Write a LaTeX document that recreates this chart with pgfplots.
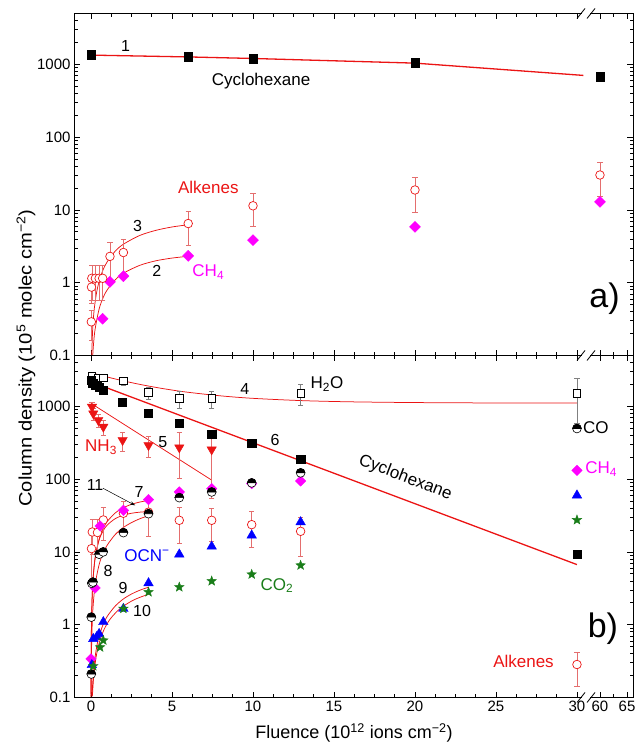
\documentclass[border=0pt]{standalone}
\usepackage{pgfplots}
\pgfplotsset{compat=1.18}
\usepackage{fontspec}
\setmainfont{Liberation Sans}
\usepackage{graphicx}
\usetikzlibrary{arrows.meta,plotmarks}
\definecolor{cred}{RGB}{235,20,20}
\definecolor{ered}{RGB}{228,110,110}
\definecolor{cmag}{RGB}{255,0,255}
\definecolor{cblue}{RGB}{0,0,255}
\definecolor{cgreen}{RGB}{25,125,25}
\newcommand{\lf}{\fontsize{17}{19}\selectfont}
\newcommand{\nf}{\fontsize{16}{18}\selectfont}
\newcommand{\bigf}{\fontsize{34}{36}\selectfont}
\pgfdeclareplotmark{fstar}{%
  \pgfpathmoveto{\pgfpointpolar{90}{\pgfplotmarksize}}%
  \pgfpathlineto{\pgfpointpolar{126}{0.42\pgfplotmarksize}}%
  \pgfpathlineto{\pgfpointpolar{162}{\pgfplotmarksize}}%
  \pgfpathlineto{\pgfpointpolar{198}{0.42\pgfplotmarksize}}%
  \pgfpathlineto{\pgfpointpolar{234}{\pgfplotmarksize}}%
  \pgfpathlineto{\pgfpointpolar{270}{0.42\pgfplotmarksize}}%
  \pgfpathlineto{\pgfpointpolar{306}{\pgfplotmarksize}}%
  \pgfpathlineto{\pgfpointpolar{342}{0.42\pgfplotmarksize}}%
  \pgfpathlineto{\pgfpointpolar{18}{\pgfplotmarksize}}%
  \pgfpathlineto{\pgfpointpolar{54}{0.42\pgfplotmarksize}}%
  \pgfpathclose
  \pgfusepathqfillstroke
}
\pgfdeclareplotmark{hcirc}{%
  \pgfpathcircle{\pgfpointorigin}{\pgfplotmarksize}%
  \pgfsetfillcolor{white}%
  \pgfusepathqfillstroke
  \pgfpathmoveto{\pgfqpoint{\pgfplotmarksize}{0pt}}%
  \pgfpatharc{0}{180}{\pgfplotmarksize}%
  \pgfpathclose
  \pgfsetfillcolor{black}%
  \pgfusepathqfillstroke
}
\begin{document}
\begin{tikzpicture}
\path[use as bounding box] (0,0) rectangle (643pt,744pt);
% ---------------- top panel ----------------
\begin{axis}[
    scale only axis, anchor=south west, width=559pt, height=342pt, at={(74pt,388.5pt)},
    ymode=log, xmin=-1.05, xmax=33.46, ymin=0.1, ymax=5000,
    axis line style={line width=0.9pt},
    tick align=inside, major tick length=6pt, minor tick length=3.5pt,
    tick style={line width=0.7pt, black},
    xtick={0,5,10,15,20,25,30,31.42,33.09},
    minor xtick={1.25,2.5,3.75,6.25,7.5,8.75,11.25,12.5,13.75,16.25,17.5,18.75,21.25,22.5,23.75,26.25,27.5,28.75,32.255},
    ytick={0.1,1,10,100,1000},
    yticklabels={0.1,1,10,100,1000},
    minor ytick={0.2,0.3,0.4,0.5,0.6,0.7,0.8,0.9,2,3,4,5,6,7,8,9,20,30,40,50,60,70,80,90,200,300,400,500,600,700,800,900,2000,3000,4000},
    tick label style={font=\fontsize{15}{16}\selectfont},
    xticklabel=\empty]
\addplot[cred, line width=1.3pt] coordinates {(0,1340)(6,1265)(10,1205)(20,1040)(30.4,705)};
\addplot[cred, line width=1.3pt] coordinates {(31.2,690)(31.42,688)};
\addplot[only marks, mark=square*, mark size=4.2pt, black] coordinates {(0,1360)(6,1270)(10,1190)(20,1050)(31.42,673)};
\addplot[cred, line width=0.75pt, smooth] coordinates {(0.045,0.1)(0.1,0.222)(0.2,0.437)(0.4,0.848)(0.7,1.42)(1,1.94)(1.5,2.72)(2,3.38)(3,4.45)(4,5.24)(5,5.83)(6,6.26)};
\addplot[cred, line width=0.75pt, smooth] coordinates {(0.105,0.098)(0.15,0.139)(0.25,0.228)(0.5,0.435)(0.75,0.626)(1,0.798)(1.5,1.10)(2,1.35)(3,1.73)(4,2.00)(5,2.18)(6,2.31)};
\addplot[only marks, mark=square*, mark size=3.9pt, mark options={rotate=45}, cmag] coordinates {(0.72,0.32)(1.17,1.03)(2.0,1.23)(6,2.34)(10,3.84)(20,5.85)(31.42,12.9)};
\addplot[only marks, mark=*, mark size=4.3pt, mark options={draw=cred, fill=white, line width=0.7pt},
  error bars/.cd, y dir=both, y explicit, error bar style={line width=0.5pt, color=ered},
  error mark options={rotate=90, mark size=2.6pt, line width=0.5pt, color=ered}] coordinates {
(0.02,0.29) +- (0,0.13)
(0.03,0.87) +- (0,0.35)
(0.05,1.15) +- (0,0.58)
(0.27,1.15) +- (0,0.58)
(0.5,1.15) +- (0,0.58)
(0.72,1.15) +- (0,0.58)
(1.17,2.3) +- (0,1.25)
(2.0,2.6) +- (0,1.35)
(6,6.5) +- (0,3.2)
(10,11.4) +- (0,5.5)
(20,18.8) +- (0,9.5)
(31.42,30.2) +- (0,15)
};
\node[font=\nf] at (axis cs:2.13,1800) {1};
\node[font=\lf] at (axis cs:10.5,586) {Cyclohexane};
\node[font=\lf, text=cred] at (axis cs:7.24,20.5) {Alkenes};
\node[font=\nf] at (axis cs:2.87,6.1) {3};
\node[font=\nf] at (axis cs:4.07,1.47) {2};
\node[font=\lf, text=cmag] at (axis cs:7.24,1.39) {CH\textsubscript{4}};
\node[font=\bigf] at (axis cs:31.7,0.6) {a)};
\end{axis}
% ---------------- bottom panel ----------------
\begin{axis}[
    scale only axis, anchor=south west, width=559pt, height=342pt, at={(74pt,46.5pt)},
    ymode=log, xmin=-1.05, xmax=33.46, ymin=0.1, ymax=5000,
    axis line style={line width=0.9pt},
    tick align=inside, major tick length=6pt, minor tick length=3.5pt,
    tick style={line width=0.7pt, black},
    xtick={0,5,10,15,20,25,30,31.42,33.09},
    minor xtick={1.25,2.5,3.75,6.25,7.5,8.75,11.25,12.5,13.75,16.25,17.5,18.75,21.25,22.5,23.75,26.25,27.5,28.75,32.255},
    ytick={0.1,1,10,100,1000},
    yticklabels={0.1,1,10,100,1000},
    minor ytick={0.2,0.3,0.4,0.5,0.6,0.7,0.8,0.9,2,3,4,5,6,7,8,9,20,30,40,50,60,70,80,90,200,300,400,500,600,700,800,900,2000,3000,4000},
    tick label style={font=\fontsize{15}{16}\selectfont},
    xticklabels={0,5,10,15,20,25,30,60,65}]
\addplot[cred, line width=0.75pt, smooth] coordinates {(0,2900)(1,2533)(2,2240)(3,2008)(4,1824)(5,1677)(6,1561)(8,1395)(10,1289)(13,1200)(16,1155)(20,1128)(25,1114)(30,1111)};
\addplot[cred, line width=0.75pt] coordinates {(0,1100)(7.45,97)};
\addplot[cred, line width=1.3pt] coordinates {(0,2170)(30,6.7)};
\addplot[cred, line width=0.75pt, smooth] coordinates {(0.003,0.104)(0.01,0.347)(0.03,1.03)(0.1,3.38)(0.25,8.07)(0.5,15.0)(0.75,21.0)(1,26.2)(1.5,34.4)(2,40.5)(2.5,45.1)(3,48.4)(3.55,51.1)};
\addplot[cred, line width=0.75pt, smooth] coordinates {(0.003,0.111)(0.01,0.368)(0.03,1.09)(0.1,3.52)(0.25,8.2)(0.5,14.6)(0.75,19.5)(1,23.4)(1.5,28.7)(2,32.0)(2.5,34.0)(3,35.2)(3.55,35.9)};
\addplot[cred, line width=0.75pt, smooth] coordinates {(0.007,0.101)(0.01,0.144)(0.03,0.43)(0.1,1.42)(0.25,3.47)(0.5,6.69)(0.75,9.67)(1,12.4)(1.5,17.4)(2,21.7)(2.5,25.3)(3,28.5)(3.55,31.5)};
\addplot[cred, line width=0.75pt, smooth] coordinates {(0.07,0.104)(0.1,0.148)(0.2,0.291)(0.4,0.566)(0.7,0.947)(1,1.30)(1.5,1.81)(2,2.26)(2.5,2.64)(3,2.97)(3.55,3.28)};
\addplot[cred, line width=0.75pt, smooth] coordinates {(0.09,0.106)(0.15,0.176)(0.3,0.344)(0.5,0.557)(0.8,0.854)(1.2,1.21)(1.8,1.67)(2.5,2.11)(3,2.37)(3.55,2.62)};
% H2O
\addplot[only marks, mark=square*, mark size=3.8pt, mark options={draw=black, fill=white, line width=0.6pt},
  error bars/.cd, y dir=both, y explicit, error bar style={line width=0.5pt, color=gray},
  error mark options={rotate=90, mark size=2.6pt, line width=0.5pt, color=gray}] coordinates {
(0.04,2600) +- (0,300)
(0.41,2420) +- (0,280)
(0.76,2470) +- (0,280)
(2,2240) +- (0,300)
(3.54,1550) +- (0,300)
(5.45,1285) +- (0,350)
(7.45,1285) +- (0,350)
(12.94,1503) +- (0,480)
(30,1500) +- (0,920)
};
% cyclohexane
\addplot[only marks, mark=square*, mark size=4.1pt, black] coordinates {(0,2290)(0.1,2065)(0.25,1950)(0.5,1840)(0.75,1660)(1.95,1150)(3.55,815)(5.45,582)(7.45,415)(9.92,309)(12.94,190)(30,9.3)};
% NH3
\addplot[only marks, mark=triangle*, mark size=5.4pt, mark options={rotate=180}, cred,
  error bars/.cd, y dir=both, y explicit, error bar style={line width=0.5pt, color=ered},
  error mark options={rotate=90, mark size=2.6pt, line width=0.5pt, color=ered}] coordinates {
(0.06,985) +- (0,150)
(0.14,798) +- (0,150)
(0.45,646) +- (0,130)
(0.76,523) +- (0,120)
(1.95,343) +- (0,100)
(3.55,292) +- (0,95)
(5.45,272) +- (0,170)
(7.45,255) +- (0,200)
};
% alkenes
\addplot[only marks, mark=*, mark size=4.3pt, mark options={draw=cred, fill=white, line width=0.7pt},
  error bars/.cd, y dir=both, y explicit, error bar style={line width=0.5pt, color=ered},
  error mark options={rotate=90, mark size=2.6pt, line width=0.5pt, color=ered}] coordinates {
(0.03,11.1) +- (0,7)
(0.08,18.8) +- (0,9.5)
(0.4,18.5) +- (0,9.5)
(0.76,27.5) +- (0,13)
(2,34) +- (0,15)
(3.55,35.2) +- (0,19)
(5.45,27.2) +- (0,14)
(7.45,27.2) +- (0,13)
(9.92,23.7) +- (0,12)
(12.94,19.2) +- (0,10.5)
(30,0.284) +- (0,0.14)
};
% CH4
\addplot[only marks, mark=square*, mark size=3.7pt, mark options={rotate=45}, cmag] coordinates {(0,0.34)(0.25,3.2)(0.56,22.7)(2,37.3)(3.55,52.4)(5.45,66.7)(7.45,74.2)(9.92,87)(12.94,94.5)(30,132)};
% CO
\addplot[only marks, mark=hcirc, mark size=4.4pt, mark options={draw=black, line width=0.6pt}] coordinates {(0.02,0.21)(0.02,1.27)(0.05,3.7)(0.12,3.85)(0.5,9.3)(0.75,10)(2,18.4)(3.55,33.5)(5.45,55.7)(7.45,66.6)(9.92,88.8)(12.94,122)(30,496)};
% OCN-
\addplot[only marks, mark=triangle*, mark size=5.5pt, cblue] coordinates {(0.05,0.28)(0.14,0.64)(0.35,0.68)(0.5,0.75)(0.76,1.09)(2,1.66)(3.55,3.73)(5.45,9.27)(7.45,11.9)(9.92,16.9)(12.94,25.7)(30,60)};
% CO2
\addplot[only marks, mark=fstar, mark size=5pt, cgreen] coordinates {(0.14,0.27)(0.56,0.49)(0.76,0.61)(2,1.66)(3.55,2.81)(5.45,3.29)(7.45,3.98)(9.92,4.92)(12.94,6.55)(30,27.5)};
% labels
\node[font=\nf] at (axis cs:9.5,1726) {4};
\node[font=\lf] at (axis cs:14.57,2018) {H\textsubscript{2}O};
\node[font=\nf] at (axis cs:11.36,343) {6};
\node[font=\nf] at (axis cs:4.44,322) {5};
\node[font=\lf, text=cred] at (axis cs:0.62,275) {NH\textsubscript{3}};
\node[font=\nf] at (axis cs:0.25,82.4) {11};
\node[font=\nf] at (axis cs:2.96,66) {7};
\draw[-{Stealth[length=5pt,width=3.5pt]}, line width=0.5pt] (axis cs:0.74,75) -- (axis cs:2.72,43.7);
\node[font=\lf, rotate=-21, inner sep=1pt] at (axis cs:19.4,104) {Cyclohexane};
\node[font=\lf, anchor=west, inner sep=0pt] at (axis cs:30.37,518) {CO};
\node[font=\lf, text=cmag, anchor=west, inner sep=0pt] at (axis cs:30.5,138) {CH\textsubscript{4}};
\node[font=\lf, text=cblue] at (axis cs:3.46,8.97) {OCN\textsuperscript{−}};
\node[font=\nf] at (axis cs:1.05,5.4) {8};
\node[font=\nf] at (axis cs:1.98,3.16) {9};
\node[font=\nf] at (axis cs:3.15,1.52) {10};
\node[font=\lf, text=cgreen] at (axis cs:11.48,3.47) {CO\textsubscript{2}};
\node[font=\lf, text=cred] at (axis cs:26.7,0.313) {Alkenes};
\node[font=\bigf] at (axis cs:31.6,0.89) {b)};
\end{axis}
% axis break marks
\foreach \yy in {730.5,388.5,46.5} {
  \fill[white] (582pt,\yy pt-2pt) rectangle (590pt,\yy pt+2pt);
  \draw[line width=0.8pt] (577pt,\yy pt-5pt) -- (585pt,\yy pt+5pt);
  \draw[line width=0.8pt] (587pt,\yy pt-5pt) -- (595pt,\yy pt+5pt);
}
% axis titles
\node[rotate=90] at (26pt,386pt) {\scalebox{1.12}[1]{\fontsize{18}{20}\selectfont Column density (10\textsuperscript{5} molec cm\textsuperscript{−2})}};
\node at (354pt,11pt) {\fontsize{18}{20}\selectfont Fluence (10\textsuperscript{12} ions cm\textsuperscript{−2})};
\end{tikzpicture}
\end{document}
